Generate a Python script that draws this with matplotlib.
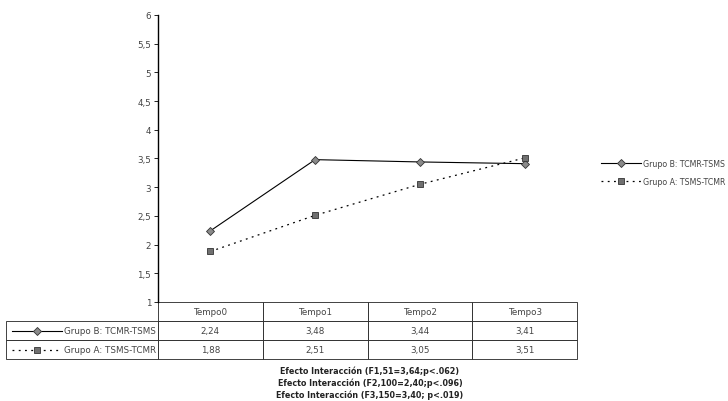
import numpy as np
import matplotlib
matplotlib.use("Agg")
import matplotlib.pyplot as plt
from matplotlib.lines import Line2D
from matplotlib.table import Table

# --- data ---
tiempos = ["Tempo0", "Tempo1", "Tempo2", "Tempo3"]
grupo_b = [2.24, 3.48, 3.44, 3.41]
grupo_a = [1.88, 2.51, 3.05, 3.51]
label_b = "Grupo B: TCMR-TSMS"
label_a = "Grupo A: TSMS-TCMR"
yticks = [1, 1.5, 2, 2.5, 3, 3.5, 4, 4.5, 5, 5.5, 6]
notas = ["Efecto Interacción (F1,51=3,64;p<.062)",
         "Efecto Interacción (F2,100=2,40;p<.096)",
         "Efecto Interacción (F3,150=3,40; p<.019)"]

W, H = 728, 402
fig = plt.figure(figsize=(W / 100, H / 100), dpi=100)
ax = fig.add_axes([158 / W, 1 - 303 / H, 419 / W, 287 / H])

txt = "#444444"
fs = 6.3

x = np.arange(len(tiempos))
style_b = dict(color="black", lw=0.8, marker="D", markersize=4.2,
               markerfacecolor="#8a8a8a", markeredgecolor="#333333", markeredgewidth=0.6)
style_a = dict(color="black", lw=0.9, linestyle=(0, (1.5, 3.5)), marker="s", markersize=5,
               markerfacecolor="#707070", markeredgecolor="#333333", markeredgewidth=0.6)
ax.plot(x, grupo_b, label=label_b, **style_b)
ax.plot(x, grupo_a, label=label_a, **style_a)

ax.set_xlim(-0.5, len(tiempos) - 0.5)
ax.set_ylim(1, 6)
ax.set_yticks(yticks)
ax.set_yticklabels([f"{v:g}".replace(".", ",") for v in yticks], fontsize=fs, color=txt)
ax.set_xticks([])
for s in ["top", "right", "bottom"]:
    ax.spines[s].set_visible(False)
ax.spines["left"].set_linewidth(1.0)
ax.tick_params(axis="y", length=3, width=0.6, pad=2)

# data table below the axes (bbox covers the data columns; labels hang left)
cell_text = [[f"{v:.2f}".replace(".", ",") for v in grupo_b],
             [f"{v:.2f}".replace(".", ",") for v in grupo_a]]
lab_w = 152 / 419
row_h = 19 / 287
tab = Table(ax, bbox=[0, -3 * row_h, 1, 3 * row_h])
for j, t in enumerate(tiempos):
    tab.add_cell(0, j, width=0.25, height=row_h, text=t, loc="center")
for i, row in enumerate(cell_text):
    tab.add_cell(i + 1, -1, width=lab_w, height=row_h, text="")
    for j, t in enumerate(row):
        tab.add_cell(i + 1, j, width=0.25, height=row_h, text=t, loc="center")
tab.auto_set_font_size(False)
tab.set_fontsize(fs)
for (r, c), cell in tab.get_celld().items():
    cell.set_linewidth(0.6)
    cell.set_edgecolor("#222222")
    cell.get_text().set_color(txt)
ax.add_table(tab)

# row labels with line samples
row_y = [-1.5 * row_h, -2.5 * row_h]
for yy, st, lab in zip(row_y, [style_b, style_a], [label_b, label_a]):
    line_st = {k: v for k, v in st.items() if not k.startswith("marker")}
    ax.add_line(Line2D([-lab_w + 6 / 419, -lab_w + 56 / 419], [yy, yy],
                       transform=ax.transAxes, clip_on=False, **line_st))
    ax.add_line(Line2D([-lab_w + 31 / 419], [yy], transform=ax.transAxes, clip_on=False,
                       **st))
    ax.text(-lab_w + 58 / 419, yy, lab, transform=ax.transAxes, fontsize=fs,
            color=txt, va="center", ha="left")

fig.legend(loc="upper left", bbox_to_anchor=(594 / W, 1 - 153 / H), frameon=False,
           fontsize=5.7, handlelength=5.0, labelcolor=txt, labelspacing=1.1,
           handletextpad=0.3)

for i, n in enumerate(notas):
    fig.text(370 / W, 1 - (371 + 12 * i) / H, n, fontsize=5.8, color="#222222",
             ha="center", va="center", fontweight="bold")

fig.savefig("out.png", dpi=100)
